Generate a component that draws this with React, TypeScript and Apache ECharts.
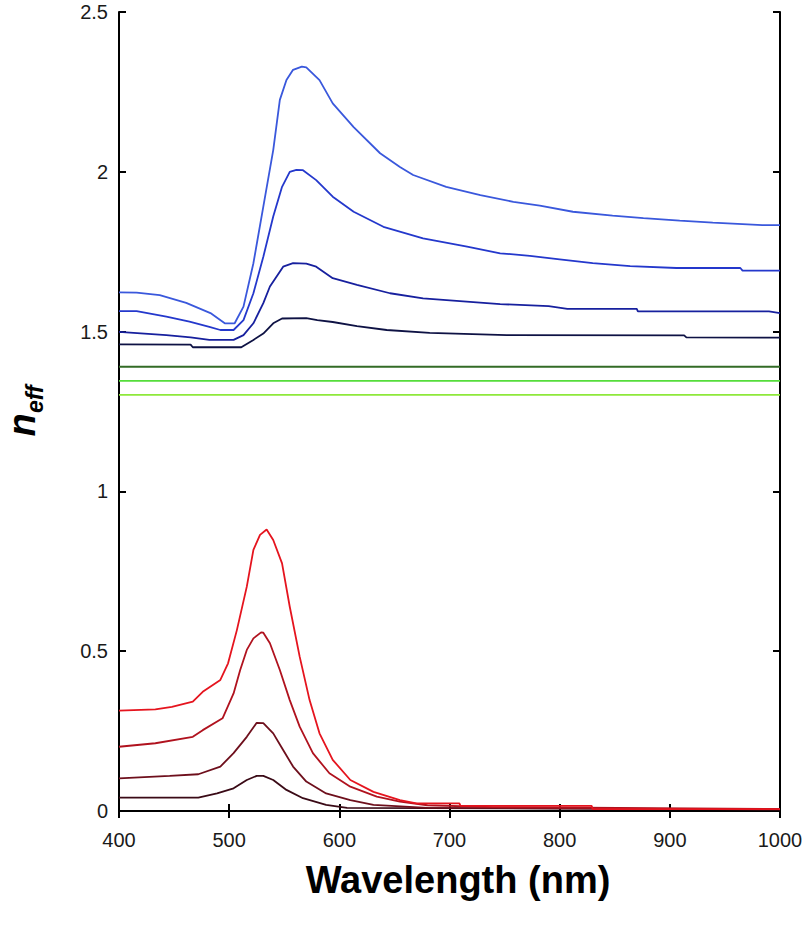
import React, { useEffect, useRef } from "react";
import * as echarts from "echarts";

type Pt = [number, number];

const xTicks = [400, 500, 600, 700, 800, 900, 1000];
const yTicks = [0, 0.5, 1, 1.5, 2, 2.5];

const blue1: Pt[] = [
  [400, 1.623], [416, 1.622], [437, 1.614], [461, 1.59], [483, 1.558], [496, 1.526], [505, 1.526],
  [513, 1.578], [522, 1.714], [531, 1.891], [540, 2.068], [546, 2.225], [552, 2.287], [558, 2.319],
  [566, 2.329], [570, 2.327], [582, 2.287], [594, 2.214], [613, 2.14], [637, 2.058], [655, 2.015],
  [667, 1.99], [697, 1.953], [728, 1.927], [758, 1.906], [782, 1.894], [812, 1.875], [848, 1.863],
  [876, 1.855], [909, 1.847], [939, 1.841], [984, 1.833], [1000, 1.833],
];
const blue2: Pt[] = [
  [400, 1.564], [416, 1.564], [443, 1.547], [464, 1.531], [482, 1.515], [492, 1.505], [504, 1.505],
  [513, 1.536], [522, 1.62], [531, 1.734], [540, 1.86], [548, 1.953], [555, 2.0], [561, 2.006],
  [567, 2.005], [579, 1.974], [594, 1.922], [613, 1.875], [640, 1.828], [676, 1.792], [716, 1.766],
  [746, 1.745], [773, 1.737], [800, 1.726], [830, 1.714], [864, 1.705], [906, 1.699], [964, 1.699],
  [966, 1.691], [1000, 1.691],
];
const blue3: Pt[] = [
  [400, 1.499], [443, 1.489], [465, 1.482], [482, 1.474], [504, 1.474], [513, 1.489], [522, 1.526],
  [531, 1.589], [537, 1.641], [549, 1.703], [558, 1.714], [570, 1.713], [579, 1.703], [594, 1.667],
  [616, 1.646], [646, 1.62], [676, 1.604], [746, 1.586], [790, 1.58], [807, 1.571], [870, 1.571],
  [871, 1.563], [990, 1.563], [1000, 1.558],
];
const blue4: Pt[] = [
  [400, 1.46], [465, 1.459], [467, 1.451], [511, 1.451], [522, 1.474], [531, 1.494], [540, 1.526],
  [548, 1.541], [570, 1.542], [580, 1.536], [594, 1.53], [616, 1.517], [643, 1.505], [682, 1.496],
  [752, 1.489], [913, 1.488], [915, 1.482], [1000, 1.481],
];

const green1: Pt[] = [[400, 1.39], [1000, 1.39]];
const green2: Pt[] = [[400, 1.346], [1000, 1.346]];
const green3: Pt[] = [[400, 1.302], [1000, 1.302]];

const red1: Pt[] = [
  [400, 0.314], [433, 0.318], [448, 0.326], [467, 0.342], [476, 0.373], [492, 0.41], [499, 0.462],
  [507, 0.566], [516, 0.702], [522, 0.817], [528, 0.864], [534, 0.881], [540, 0.848], [548, 0.775],
  [555, 0.639], [564, 0.483], [573, 0.347], [582, 0.243], [594, 0.16], [610, 0.097], [631, 0.06],
  [655, 0.034], [670, 0.024], [709, 0.024], [710, 0.016], [829, 0.016], [830, 0.006], [1000, 0.006],
];
const red2: Pt[] = [
  [400, 0.201], [433, 0.212], [467, 0.232], [476, 0.253], [494, 0.29], [504, 0.368], [510, 0.441],
  [516, 0.504], [522, 0.54], [529, 0.559], [531, 0.558], [537, 0.525], [546, 0.441], [555, 0.347],
  [564, 0.264], [576, 0.181], [591, 0.118], [610, 0.076], [634, 0.045], [655, 0.029], [680, 0.018],
  [740, 0.012], [1000, 0.006],
];
const red3: Pt[] = [
  [400, 0.102], [446, 0.11], [472, 0.115], [492, 0.139], [504, 0.181], [516, 0.232], [525, 0.276],
  [531, 0.275], [540, 0.243], [549, 0.191], [558, 0.139], [570, 0.092], [588, 0.055], [610, 0.034],
  [631, 0.019], [680, 0.01], [1000, 0.005],
];
const red4: Pt[] = [
  [400, 0.042], [472, 0.042], [489, 0.055], [504, 0.071], [516, 0.097], [525, 0.11], [531, 0.11],
  [540, 0.097], [552, 0.066], [567, 0.04], [588, 0.019], [607, 0.01], [1000, 0.005],
];

const seriesList: { name: string; data: Pt[]; color: string }[] = [
  { name: "blue4", data: blue4, color: "#0e1244" },
  { name: "blue3", data: blue3, color: "#17209e" },
  { name: "blue2", data: blue2, color: "#2438cc" },
  { name: "blue1", data: blue1, color: "#3a58dc" },
  { name: "green1", data: green1, color: "#336b26" },
  { name: "green2", data: green2, color: "#55dd3a" },
  { name: "green3", data: green3, color: "#8ee83a" },
  { name: "red4", data: red4, color: "#3a0a16" },
  { name: "red3", data: red3, color: "#6e0f1c" },
  { name: "red2", data: red2, color: "#b0121e" },
  { name: "red1", data: red1, color: "#e5141e" },
];

const FONT = "Liberation Sans, Arial, sans-serif";

export default function App() {
  const ref = useRef<HTMLDivElement>(null);
  useEffect(() => {
    document.body.style.margin = "0";
    if (!ref.current) return;
    const chart = echarts.init(ref.current, undefined, { renderer: "svg" });
    const axisLine = { show: true, lineStyle: { color: "#000", width: 2 } };
    const axisTick = { show: true, inside: true, length: 7, lineStyle: { color: "#000", width: 2 } };
    chart.setOption({
      animation: false,
      backgroundColor: "#fff",
      grid: { left: 119, right: 27, top: 12, bottom: 119, containLabel: false },
      xAxis: [
        {
          type: "value", min: 400, max: 1000, interval: 100, position: "bottom",
          axisLine, axisTick, splitLine: { show: false },
          axisLabel: {
            margin: 19, fontSize: 20, color: "#1a1a1a", fontFamily: FONT,
            formatter: (v: number) => (xTicks.includes(v) ? String(v) : ""),
          },
        },
        {
          type: "value", min: 400, max: 1000, interval: 100, position: "top",
          axisLine, axisTick, splitLine: { show: false }, axisLabel: { show: false },
        },
      ],
      yAxis: [
        {
          type: "value", min: 0, max: 2.5, interval: 0.5, position: "left",
          axisLine, axisTick, splitLine: { show: false },
          axisLabel: {
            margin: 11, fontSize: 20, color: "#1a1a1a", fontFamily: FONT,
            formatter: (v: number) => (yTicks.includes(v) ? String(v) : ""),
          },
        },
        {
          type: "value", min: 0, max: 2.5, interval: 0.5, position: "right",
          axisLine, axisTick, splitLine: { show: false }, axisLabel: { show: false },
        },
      ],
      series: seriesList.map((s) => ({
        name: s.name,
        type: "line",
        data: s.data,
        showSymbol: false,
        symbol: "none",
        smooth: false,
        lineStyle: { color: s.color, width: 1.8 },
        itemStyle: { color: s.color },
      })),
      graphic: [
        {
          type: "text", x: 458, y: 880,
          style: {
            text: "Wavelength (nm)", font: `bold 38px ${FONT}`, fill: "#000",
            textAlign: "center", textVerticalAlign: "middle",
          },
        },
        {
          type: "text", x: 41, y: 425, rotation: Math.PI / 2,
          style: {
            text: "n", font: `italic bold 38px ${FONT}`, fill: "#000",
            textAlign: "center", textVerticalAlign: "bottom",
          },
        },
        {
          type: "text", x: 46, y: 413, rotation: Math.PI / 2,
          style: {
            text: "eff", font: `italic bold 23px ${FONT}`, fill: "#000",
            textAlign: "left", textVerticalAlign: "bottom",
          },
        },
      ],
    });
    return () => chart.dispose();
  }, []);
  return <div ref={ref} style={{ width: 807, height: 930 }} />;
}
